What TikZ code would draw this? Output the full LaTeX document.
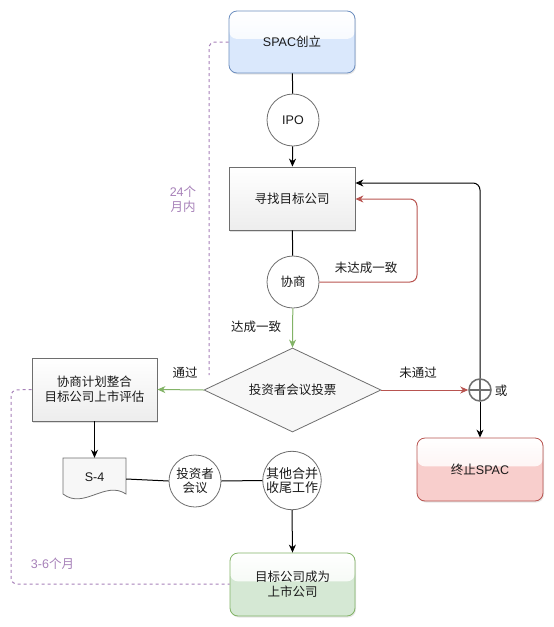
\documentclass[tikz,border=0pt]{standalone}
\usepackage{fontspec}
\setmainfont{Liberation Sans}
\newfontfamily\cjk{Noto Sans CJK SC}
\usetikzlibrary{shapes.geometric,arrows.meta,shadows,calc}
\definecolor{bluef}{HTML}{DAE8FC}
\definecolor{blued}{HTML}{6C8EBF}
\definecolor{greenf}{HTML}{D5E8D4}
\definecolor{greend}{HTML}{82B366}
\definecolor{redf}{HTML}{F8CECC}
\definecolor{redd}{HTML}{B85450}
\definecolor{gline}{HTML}{6E6E6E}
\definecolor{grayb}{HTML}{EDEDED}
\definecolor{purp}{HTML}{A680B8}
\definecolor{txt}{HTML}{1A1A1A}
\definecolor{greenl}{HTML}{82B366}
\definecolor{redl}{HTML}{B85450}
\begin{document}
\begin{tikzpicture}[x=1pt,y=-1pt,
  every node/.style={font=\cjk\fontsize{12.5}{15}\selectfont, text=txt},
  arr/.style={-{Stealth[length=8pt,width=7pt,inset=2.5pt]}},
  conn/.style={line width=1pt, draw=black},
  graybox/.style={rectangle, minimum width=126pt, minimum height=63pt, draw=gline, line width=0.8pt,
    top color=white, bottom color=grayb, align=center, inner sep=2pt,
    drop shadow={shadow xshift=1pt, shadow yshift=-1.5pt, opacity=0.25}},
  cbox/.style={rectangle, rounded corners=8pt, minimum width=126pt, minimum height=62pt, fill=#1,
    line width=0.8pt, align=center, inner sep=2pt,
    drop shadow={shadow xshift=1pt, shadow yshift=-1.5pt, opacity=0.2},
    path picture={\shade[top color=white, bottom color=#1!45!white]
      (path picture bounding box.north west) rectangle
      ($(path picture bounding box.north east)!0.45!(path picture bounding box.south east)$);}},
  circ/.style={circle, draw=gline, fill=white, minimum size=52pt, inner sep=0pt, line width=0.8pt, align=center},
  purpledash/.style={draw=purp, line width=1pt, dash pattern=on 3pt off 3pt, rounded corners=6pt},
  lbl/.style={inner sep=0pt, align=center},
  plbl/.style={inner sep=0pt, align=center, text=purp}
]
\useasboundingbox (0,0) rectangle (554,627);

% nodes
\node[cbox=bluef, draw=blued] (spac) at (292,42) {\textrm{SPAC}创立};
\node[circ] (ipo) at (293,120) {\textrm{IPO}};
\node[graybox] (find) at (292,198.5) {寻找目标公司};
\node[circ] (xs) at (293,282) {协商};
\node[diamond, aspect=2, minimum width=177pt, minimum height=84pt, inner sep=0pt,
      draw=gline, fill=white!97!black, line width=0.8pt] (vote) at (292.5,390) {投资者会议投票};
\node[graybox, minimum width=125pt] (plan) at (94.5,389.5) {协商计划整合\\目标公司上市评估};

% S-4 document shape
\draw[gline, line width=0.8pt, fill=white!97!black]
  (63,458) -- (126,458) -- (126,494) .. controls (105,480) and (84,510) .. (63,494) -- cycle;
\node[rectangle, minimum width=63pt, minimum height=42pt, inner sep=0pt] (s4) at (94.5,479) {\raisebox{3pt}{\textrm{S-4}}};

\node[circ, font=\cjk\fontsize{12.5}{13.5}\selectfont] (meet) at (195,481) {投资者\\会议};
\node[circ, minimum size=57pt, font=\cjk\fontsize{13}{14.5}\selectfont] (other) at (292,480.5) {其他合并\\收尾工作};
\node[cbox=greenf, draw=greend, minimum width=125pt, minimum height=63pt] (listed) at (292.5,584.5) {目标公司成为\\上市公司};
\node[cbox=redf, draw=redd, minimum height=63pt] (stop) at (480,469.5) {终止\textrm{SPAC}};

\node[circle, draw=gline, line width=1.5pt, fill=white, minimum size=22pt, inner sep=0pt,
  path picture={\draw[gline, line width=1.5pt]
    (path picture bounding box.north) -- (path picture bounding box.south)
    (path picture bounding box.west) -- (path picture bounding box.east);}] (orn) at (480,390) {};

% labels
\node[lbl] (lwd) at (366,268) {未达成一致};
\node[lbl] (ld) at (256,327) {达成一致};
\node[lbl] (ltg) at (185,373) {通过};
\node[lbl] (lwtg) at (418,373) {未通过};
\node[lbl] (lor) at (501,391) {或};
\node[plbl] (l24) at (183,199.5) {\textrm{24}个\\月内};
\node[plbl] (l36) at (52.5,564) {\textrm{3-6}个月};

% connectors
\draw[conn] (spac) -- (ipo);
\draw[conn, arr] (ipo) -- (find);
\draw[conn] (find) -- (xs);
\coordinate (r0) at (417,282);
\coordinate (r1) at (417,199);
\draw[line width=1pt, draw=redl, arr, rounded corners=7pt] (xs.east) -- (r0) -- (r1) -- (r1 -| find.east);
\draw[line width=1pt, draw=greenl, arr] (xs) -- (vote.north);
\draw[line width=1pt, draw=greenl, arr] (vote.west) -- (plan.east);
\draw[line width=1pt, draw=redl, arr] (vote.east) -- (orn.west);
\coordinate (b1) at (480,183);
\draw[conn, arr, rounded corners=7pt] (orn.north) -- (b1) -- (b1 -| find.east);
\draw[conn, arr] (orn.south) -- (stop.north);
\draw[conn, arr] (plan.south) -- (s4.north);
\draw[conn] (s4.east) -- (meet.west);
\draw[conn] (meet.east) -- (other.west);
\draw[conn, arr] (other.south) -- (listed.north);

% dashed timing lines
\coordinate (d1) at (209,42);
\coordinate (d2) at (209,375);
\draw[purpledash] (spac.west) -- (d1) -- (d2);
\coordinate (e1) at (11,390);
\coordinate (e2) at (11,584);
\draw[purpledash] (plan.west) -- (e1) -- (e2) -- (e2 -| listed.west);
\end{tikzpicture}
\end{document}
